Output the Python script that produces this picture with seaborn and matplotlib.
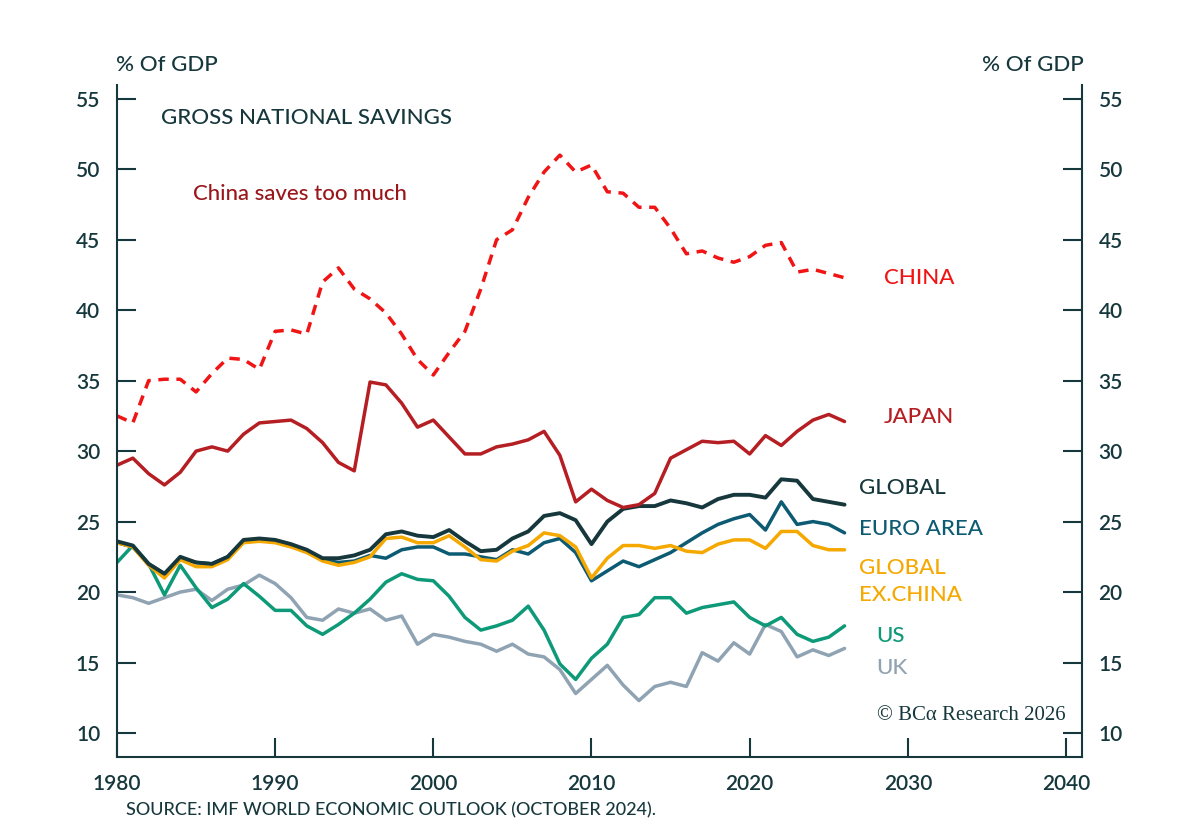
import matplotlib
matplotlib.use("Agg")
import matplotlib.pyplot as plt
import seaborn as sns
import numpy as np

years = list(range(1980, 2027))
china = [32.5, 32, 35, 35.1, 35.1, 34.2, 35.5, 36.6, 36.5, 35.8, 38.5, 38.6, 38.3, 42, 43, 41.5,
         40.8, 39.8, 38.3, 36.5, 35.4, 37, 38.5, 41.5, 45, 45.7, 48, 49.8, 51, 49.8, 50.3, 48.4,
         48.3, 47.3, 47.3, 45.8, 44, 44.2, 43.7, 43.4, 43.8, 44.6, 44.8, 42.7, 42.9, 42.6, 42.3]
japan = [29, 29.5, 28.4, 27.6, 28.5, 30, 30.3, 30, 31.2, 32, 32.1, 32.2, 31.6, 30.6, 29.2, 28.6,
         34.9, 34.7, 33.4, 31.7, 32.2, 31, 29.8, 29.8, 30.3, 30.5, 30.8, 31.4, 29.7, 26.4, 27.3, 26.5,
         26, 26.2, 27, 29.5, 30.1, 30.7, 30.6, 30.7, 29.8, 31.1, 30.4, 31.4, 32.2, 32.6, 32.1]
global_ = [23.6, 23.3, 22, 21.3, 22.5, 22.1, 22, 22.5, 23.7, 23.8, 23.7, 23.4, 23, 22.4, 22.4, 22.6,
           23, 24.1, 24.3, 24, 23.9, 24.4, 23.6, 22.9, 23, 23.8, 24.3, 25.4, 25.6, 25.1, 23.4, 25,
           25.9, 26.1, 26.1, 26.5, 26.3, 26, 26.6, 26.9, 26.9, 26.7, 28, 27.9, 26.6, 26.4, 26.2]
euro = [23.5, 23.2, 22, 21.3, 22.4, 22.1, 22, 22.5, 23.6, 23.7, 23.6, 23.3, 22.9, 22.3, 22.1, 22.2,
        22.6, 22.4, 23, 23.2, 23.2, 22.7, 22.7, 22.5, 22.3, 23, 22.7, 23.5, 23.8, 22.8, 20.8, 21.5,
        22.2, 21.8, 22.3, 22.8, 23.5, 24.2, 24.8, 25.2, 25.5, 24.4, 26.4, 24.8, 25, 24.8, 24.2]
ex_china = [23.5, 23.2, 21.9, 21, 22.3, 21.8, 21.8, 22.3, 23.5, 23.6, 23.5, 23.2, 22.8, 22.2, 21.9, 22.1,
            22.5, 23.8, 23.9, 23.5, 23.5, 24, 23.2, 22.3, 22.2, 22.9, 23.3, 24.2, 24, 23.2, 21, 22.4,
            23.3, 23.3, 23.1, 23.3, 22.9, 22.8, 23.4, 23.7, 23.7, 23.1, 24.3, 24.3, 23.3, 23, 23]
us = [22.1, 23.3, 22, 19.8, 21.9, 20.3, 18.9, 19.5, 20.6, 19.7, 18.7, 18.7, 17.6, 17, 17.7, 18.5,
      19.5, 20.7, 21.3, 20.9, 20.8, 19.7, 18.2, 17.3, 17.6, 18, 19, 17.3, 14.9, 13.8, 15.3, 16.3,
      18.2, 18.4, 19.6, 19.6, 18.5, 18.9, 19.1, 19.3, 18.2, 17.6, 18.2, 17, 16.5, 16.8, 17.6]
uk = [19.8, 19.6, 19.2, 19.6, 20, 20.2, 19.4, 20.2, 20.5, 21.2, 20.6, 19.6, 18.2, 18, 18.8, 18.5,
      18.8, 18, 18.3, 16.3, 17, 16.8, 16.5, 16.3, 15.8, 16.3, 15.6, 15.4, 14.5, 12.8, 13.8, 14.8,
      13.4, 12.3, 13.3, 13.6, 13.3, 15.7, 15.1, 16.4, 15.6, 17.7, 17.2, 15.4, 15.9, 15.5, 16]

ink = "#16383d"
sns.set_theme(style="white")
plt.rcParams["font.family"] = ["Lato", "DejaVu Sans"]

fig = plt.figure(figsize=(12, 8.3), dpi=100)
ax = fig.add_axes([0.0975, 0.088, 0.804, 0.81])

series = [
    (uk, "#8fa3b3", "-", 2.5),
    (us, "#0e9a78", "-", 2.5),
    (euro, "#0d5a73", "-", 2.5),
    (ex_china, "#f5a800", "-", 2.5),
    (global_, "#16383d", "-", 2.8),
    (japan, "#b51e23", "-", 2.5),
    (china, "#f01414", (0, (3, 2.2)), 2.5),
]
for vals, col, ls, lw in series:
    sns.lineplot(x=years, y=vals, ax=ax, color=col, linestyle=ls, linewidth=lw)

ax.set_xlim(1980, 2041)
ax.set_ylim(8.3, 56)
ax.set_xticks(range(1980, 2041, 10))
ax.set_yticks(range(10, 56, 5))
for s in ["left", "right", "bottom"]:
    ax.spines[s].set_color(ink)
    ax.spines[s].set_linewidth(1.5)
ax.spines["top"].set_visible(False)
ax.tick_params(axis="both", direction="in", length=14, width=1.5, color=ink,
               labelcolor=ink, labelsize=15, pad=12)
ax.tick_params(axis="y", right=True, labelright=True, left=True)
ax.tick_params(axis="x", bottom=True)
for lab in ax.get_xticklabels() + ax.get_yticklabels():
    lab.set_fontweight("semibold")

fig.text(0.097, 0.915, "% Of GDP", color=ink, fontsize=16, fontweight="medium")
fig.text(0.903, 0.915, "% Of GDP", color=ink, fontsize=16, ha="right", fontweight="medium")
ax.text(1982.8, 53.2, "GROSS NATIONAL SAVINGS", color=ink, fontsize=16, fontweight="medium")
ax.text(1984.8, 47.8, "China saves too much", color="#99161b", fontsize=16, fontweight="medium")

labels = [
    (2028.5, 42.3, "CHINA", "#f01414"),
    (2028.5, 32.4, "JAPAN", "#b51e23"),
    (2026.9, 27.4, "GLOBAL", ink),
    (2026.9, 24.5, "EURO AREA", "#0d5a73"),
    (2026.9, 20.75, "GLOBAL\nEX.CHINA", "#f5a800"),
    (2028.0, 16.9, "US", "#0e9a78"),
    (2028.0, 14.6, "UK", "#8fa3b3"),
]
for x, y, t, c in labels:
    ax.text(x, y, t, color=c, fontsize=16, va="center", linespacing=1.45, fontweight="medium")

ax.text(2040, 10.9, "© BCα Research 2026", color=ink, fontsize=15, ha="right",
        family=["Liberation Serif", "DejaVu Serif"])
fig.text(0.105, 0.018, "SOURCE: IMF WORLD ECONOMIC OUTLOOK (OCTOBER 2024).", color=ink,
         fontsize=13, fontweight="medium")

fig.savefig("out.png", dpi=100)
